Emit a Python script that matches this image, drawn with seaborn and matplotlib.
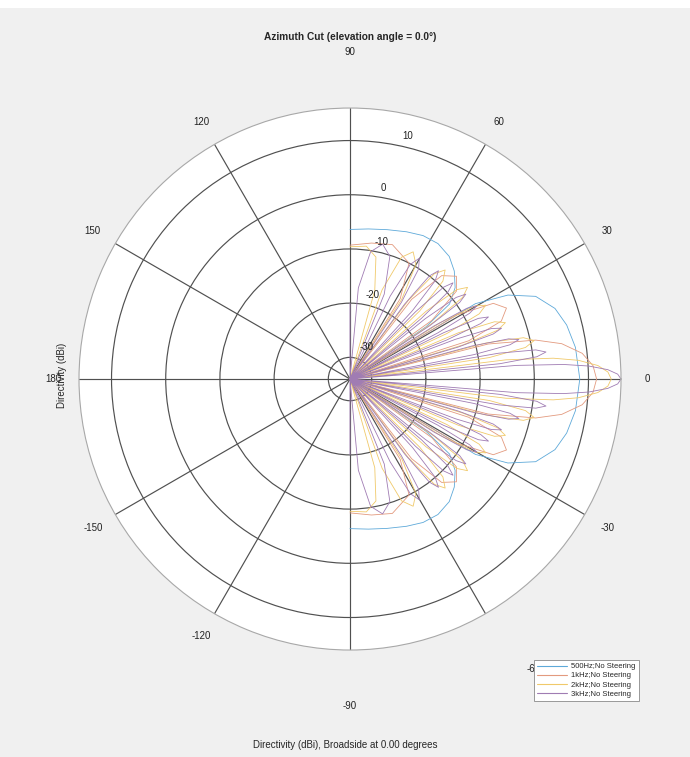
import numpy as np
import pandas as pd
import matplotlib
matplotlib.use("Agg")
import matplotlib.pyplot as plt
import seaborn as sns
from matplotlib.patches import Rectangle

# Directivity (dBi), 0..90 deg (pattern is symmetric about 0 deg)
# -34 dB is the bottom of the radial scale (the nulls collapse onto the centre)
ang_500 = [0, 8, 14, 19, 24, 28, 31, 33, 34.5, 37, 41, 46, 51, 57, 63, 69, 76, 83, 90]
db_500 = [8.4, 8.0, 7.2, 6.0, 3.5, -1.0, -7.0, -34, -17, -11.0, -8.3, -6.3, -4.9,
          -4.2, -4.3, -4.9, -5.6, -6.1, -6.4]

ang_1k = [0, 3.16, 6.32, 9.48, 11.85, 14.22, 15.8,
          17.86, 20.96, 24.4, 27.84, 30.94, 33.0,
          35.63, 39.57, 44.0, 48.43, 52.27, 54.9,
          58.0, 63, 72.5, 81, 90]
db_1k = [11.5, 10.9, 9.1, 5.6, 1.0, -7.7, -34,
         -11.0, -4.1, -2.3, -4.1, -11.0, -34,
         -15.4, -8.5, -6.7, -8.5, -15.4, -34,
         -16.5, -10.0, -8.0, -8.6, -9.3]

ang_2k = [0, 1.56, 3.12, 4.68, 5.85, 7.02, 7.8,
          8.76, 10.2, 11.8, 13.4, 14.84, 15.8,
          16.8, 18.29, 19.95, 21.61, 23.1, 24.1,
          25.17, 26.77, 28.55, 30.33, 31.93, 33.0,
          34.19, 35.97, 37.95, 39.93, 41.71, 42.9,
          44.34, 46.5, 48.9, 51.3, 53.46, 54.9,
          56.99, 60.12, 63.6, 67.08, 70.21, 72.3,
          74.4, 78, 83, 90]
db_2k = [14.2, 13.6, 11.8, 8.3, 3.7, -5.0, -34,
         -8.0, -1.1, 0.7, -1.1, -8.0, -34,
         -12.2, -5.3, -3.5, -5.3, -12.2, -34,
         -14.2, -7.3, -5.5, -7.3, -14.2, -34,
         -15.2, -8.3, -6.5, -8.3, -15.2, -34,
         -16.0, -9.1, -7.3, -9.1, -16.0, -34,
         -16.5, -9.6, -7.8, -9.6, -16.5, -34,
         -17.0, -11.0, -9.3, -9.6]

ang_3k = [0, 1.04, 2.08, 3.12, 3.9, 4.68, 5.2,
          5.84, 6.79, 7.85, 8.91, 9.86, 10.5,
          11.14, 12.09, 13.15, 14.21, 15.16, 15.8,
          16.46, 17.45, 18.55, 19.65, 20.64, 21.3,
          21.98, 23.01, 24.15, 25.29, 26.32, 27.0,
          27.72, 28.8, 30.0, 31.2, 32.28, 33.0,
          33.78, 34.95, 36.25, 37.55, 38.72, 39.5,
          40.35, 41.63, 43.05, 44.47, 45.75, 46.6,
          47.6, 49.09, 50.75, 52.41, 53.9, 54.9,
          56.16, 58.05, 60.15, 62.25, 64.14, 65.4,
          68.04, 72.0, 76.4, 80.8, 84.76, 87.4,
          90]
db_3k = [16.0, 15.4, 13.6, 10.1, 5.5, -3.2, -34,
         -6.2, 0.7, 2.5, 0.7, -6.2, -34,
         -10.7, -3.8, -2.0, -3.8, -10.7, -34,
         -13.2, -6.3, -4.5, -6.3, -13.2, -34,
         -14.7, -7.8, -6.0, -7.8, -14.7, -34,
         -15.7, -8.8, -7.0, -8.8, -15.7, -34,
         -16.2, -9.3, -7.5, -9.3, -16.2, -34,
         -16.7, -9.8, -8.0, -9.8, -16.7, -34,
         -16.9, -10.0, -8.2, -10.0, -16.9, -34,
         -17.0, -10.1, -8.3, -10.1, -17.0, -34,
         -17.1, -10.2, -8.4, -10.2, -17.1, -34,
         -20.0]

series_names = ["500Hz;No Steering", "1kHz;No Steering", "2kHz;No Steering", "3kHz;No Steering"]
series_colors = ["#5ea9d9", "#e39a7f", "#f0c96a", "#a07cb3"]

ring_ticks = [-30, -20, -10, 0, 10]
angle_ticks = [0, 30, 60, 90, 120, 150, 180, -150, -120, -90, -60, -30]


def mirror(ang, db):
    # pattern is symmetric: -90..0..90
    a = np.asarray(ang, dtype=float)
    d = np.asarray(db, dtype=float)
    return np.concatenate([-a[:0:-1], a]), np.concatenate([d[:0:-1], d])


frames = []
for name, ang, db in zip(series_names,
                         [ang_500, ang_1k, ang_2k, ang_3k],
                         [db_500, db_1k, db_2k, db_3k]):
    a, d = mirror(ang, db)
    frames.append(pd.DataFrame({"theta": np.deg2rad(a), "dbi": d, "series": name}))
df = pd.concat(frames, ignore_index=True)

sns.set_style("white")
plt.rcParams["font.family"] = ["Liberation Sans", "DejaVu Sans"]

fig = plt.figure(figsize=(6.9, 7.57), dpi=100, facecolor="#f0f0f0")
fig.patches.append(Rectangle((0, 1 - 8 / 757), 1, 8 / 757, transform=fig.transFigure,
                             facecolor="white", edgecolor="none"))

ax = fig.add_axes([0.1145, 0.1413, 0.7855, 0.716], projection="polar")
ax.set_facecolor("white")

sns.lineplot(data=df, x="theta", y="dbi", hue="series", palette=series_colors,
             sort=False, estimator=None, linewidth=0.6, ax=ax, legend=False)

rmin, rmax = -34, 16
ax.set_ylim(rmin, rmax)
ax.set_yticks(ring_ticks)
ax.set_yticklabels([])
ax.set_xticks(np.deg2rad(np.arange(0, 360, 30)))
ax.set_xticklabels([])
ax.grid(True, color="#505050", linewidth=0.85)
ax.spines["polar"].set_color("#a8a8a8")
ax.spines["polar"].set_linewidth(0.8)
ax.set_xlabel("")
ax.set_ylabel("")

# ring labels, just outside each ring near the 90 deg spoke
ring_label_pos = {10: (76.6, 12.1), 0: (80, 1.8), -10: (77, -8.0),
                  -20: (75, -18.0), -30: (62, -27.4)}
for t in ring_ticks:
    th, r_lab = ring_label_pos[t]
    ax.text(np.deg2rad(th), r_lab, str(t), fontsize=7, color="#222222",
            ha="center", va="center")

# angle labels, just outside the outer ring (the -60 one sits under the legend)
label_pos = {90: (90, 26.3), -90: (-90, 26.3), -60: (-57.7, 29.3)}
for t in angle_ticks:
    th, r_lab = label_pos.get(t, (t, 20.8))
    ax.text(np.deg2rad(th), r_lab, str(t), fontsize=7, color="#222222",
            ha="center", va="center", clip_on=False)

handles = [plt.Line2D([], [], color=c, linewidth=0.8) for c in series_colors]
leg = fig.legend(handles, series_names, loc="upper left",
                 bbox_to_anchor=(530 / 690, 1 - 656 / 757), fontsize=5.5,
                 frameon=True, fancybox=False, edgecolor="#8a8a8a", framealpha=1,
                 handlelength=4.0, borderpad=0.4, labelspacing=0.25, handletextpad=0.5)
leg.get_frame().set_linewidth(0.6)

fig.text(350 / 690, 1 - 37 / 757, "Azimuth Cut (elevation angle = 0.0°)",
         fontsize=7.3, fontweight="bold", ha="center", va="center")
fig.text(345 / 690, 1 - 745 / 757, "Directivity (dBi), Broadside at 0.00 degrees",
         fontsize=7, ha="center", va="center")
fig.text(62 / 690, 1 - 375 / 757, "Directivity (dBi)", fontsize=7,
         rotation=90, ha="center", va="center")

fig.savefig("out.png", dpi=100, facecolor=fig.get_facecolor())
